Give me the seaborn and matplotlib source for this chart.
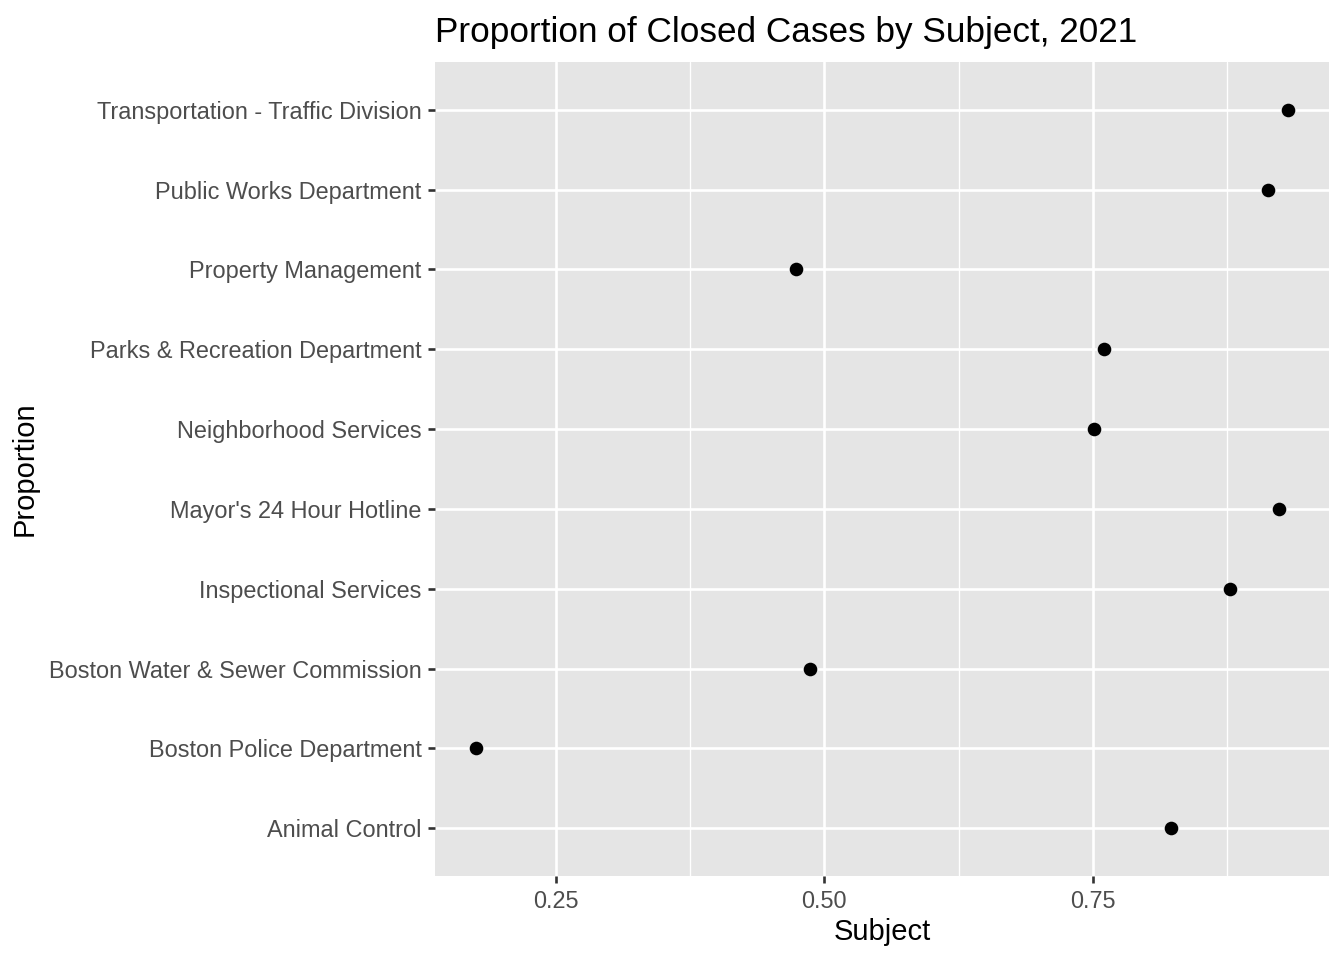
import pandas as pd
import matplotlib
matplotlib.use("Agg")
import matplotlib.pyplot as plt
import seaborn as sns
from matplotlib.ticker import FixedLocator

# data, top to bottom as in the chart
subjects = [
    "Transportation - Traffic Division",
    "Public Works Department",
    "Property Management",
    "Parks & Recreation Department",
    "Neighborhood Services",
    "Mayor's 24 Hour Hotline",
    "Inspectional Services",
    "Boston Water & Sewer Commission",
    "Boston Police Department",
    "Animal Control",
]
proportion = [0.932, 0.913, 0.474, 0.760, 0.751, 0.923, 0.878, 0.487, 0.1755, 0.823]

df = pd.DataFrame({"subject": subjects, "prop": proportion})

sns.set_theme(style="darkgrid")
plt.rcParams["font.family"] = ["Liberation Sans", "DejaVu Sans"]

fig = plt.figure(figsize=(13.44, 9.6), dpi=100)
ax = fig.add_axes([435 / 1344, 1 - 876 / 960, (1329 - 435) / 1344, (876 - 62) / 960])

sns.stripplot(data=df, x="prop", y="subject", order=subjects, jitter=False,
              color="black", size=9.8, linewidth=0, ax=ax, zorder=3)

ax.set_facecolor("#E5E5E5")
lo, hi = min(proportion), max(proportion)
pad = (hi - lo) * 0.05
ax.set_xlim(lo - pad, hi + pad)
ax.set_ylim(len(subjects) - 1 + 0.6, -0.6)
ax.set_xticks([0.25, 0.50, 0.75])
ax.set_xticklabels(["0.25", "0.50", "0.75"])
ax.xaxis.set_minor_locator(FixedLocator([0.375, 0.625, 0.875]))

ax.grid(which="major", color="white", linewidth=1.9)
ax.grid(which="minor", axis="x", color="white", linewidth=0.95)
ax.set_axisbelow(True)
for s in ax.spines.values():
    s.set_visible(False)

ax.tick_params(axis="both", which="major", bottom=True, left=True, length=4.8,
               width=1.9, color="#333333", labelsize=16.9, labelcolor="#4D4D4D", pad=5)
ax.tick_params(which="minor", length=0)

ax.set_xlabel("Subject", fontsize=21, color="black", labelpad=4)
ax.set_ylabel("Proportion", fontsize=21, color="black", labelpad=7)
ax.set_title("Proportion of Closed Cases by Subject, 2021", fontsize=25.3,
             loc="left", color="black", pad=14.5)

fig.savefig("out.png", dpi=100)
